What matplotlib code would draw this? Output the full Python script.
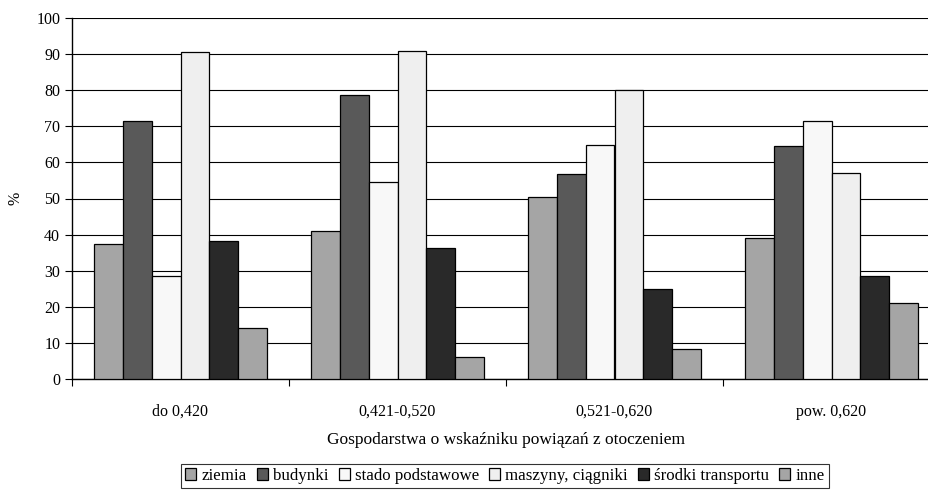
import matplotlib.pyplot as plt
import numpy as np

plt.rcParams['font.family'] = ['Liberation Serif', 'DejaVu Serif']

# dane
grupy = ['do 0,420', '0,421-0,520', '0,521-0,620', 'pow. 0,620']
serie = ['ziemia', 'budynki', 'stado podstawowe', 'maszyny, ciągniki',
         'środki transportu', 'inne']
ziemia = [37.3, 41.0, 50.5, 39.1]
budynki = [71.5, 78.8, 56.8, 64.5]
stado = [28.6, 54.5, 64.8, 71.4]
maszyny = [90.6, 90.9, 80.0, 57.1]
srodki = [38.2, 36.3, 24.8, 28.6]
inne = [14.2, 6.1, 8.3, 21.1]
wartosci = [ziemia, budynki, stado, maszyny, srodki, inne]
kolory = ['#a5a5a5', '#595959', '#f8f8f8', '#efefef', '#292929', '#a5a5a5']

fig = plt.figure(figsize=(9.29, 4.92), dpi=100)
ax = fig.add_axes([72 / 929, 113 / 492, 868 / 929, 361 / 492])

x = np.arange(len(grupy))
w = 0.8 / len(serie)
for i, (nazwa, dane) in enumerate(zip(serie, wartosci)):
    ax.bar(x - 0.4 + w * (i + 0.5), dane, width=w, color=kolory[i],
           edgecolor='black', linewidth=0.9, label=nazwa, zorder=3)

ax.set_xlim(-0.5, len(grupy) - 0.5)
ax.set_ylim(0, 100)
ax.set_yticks(range(0, 101, 10))
ax.yaxis.grid(True, color='black', linewidth=0.8, zorder=0)

ax.set_xticks(x)
ax.set_xticklabels(grupy, fontsize=11.5)
ax.set_xticks(np.arange(-0.5, len(grupy), 1), minor=True)
ax.tick_params(axis='x', which='major', length=0, pad=18)
ax.tick_params(axis='x', which='minor', length=5, width=0.8)
ax.tick_params(axis='y', length=5, width=0.8, labelsize=11.5)

for s in ['top', 'right']:
    ax.spines[s].set_visible(False)
ax.spines['left'].set_linewidth(1.0)
ax.spines['bottom'].set_linewidth(1.0)

ax.set_ylabel('%', fontsize=11.5, labelpad=9)
ax.set_xlabel('Gospodarstwa o wskaźniku powiązań z otoczeniem', fontsize=12.5,
              labelpad=9)

leg = fig.legend(loc='center', bbox_to_anchor=(505 / 929, 1 - 476 / 492),
                 ncol=6, fontsize=12.2, frameon=True, fancybox=False,
                 edgecolor='black', handlelength=0.65, handleheight=0.65,
                 handletextpad=0.3, columnspacing=0.6, borderpad=0.25,
                 borderaxespad=0)
leg.get_frame().set_linewidth(0.8)

fig.savefig('out.png', dpi=100)
